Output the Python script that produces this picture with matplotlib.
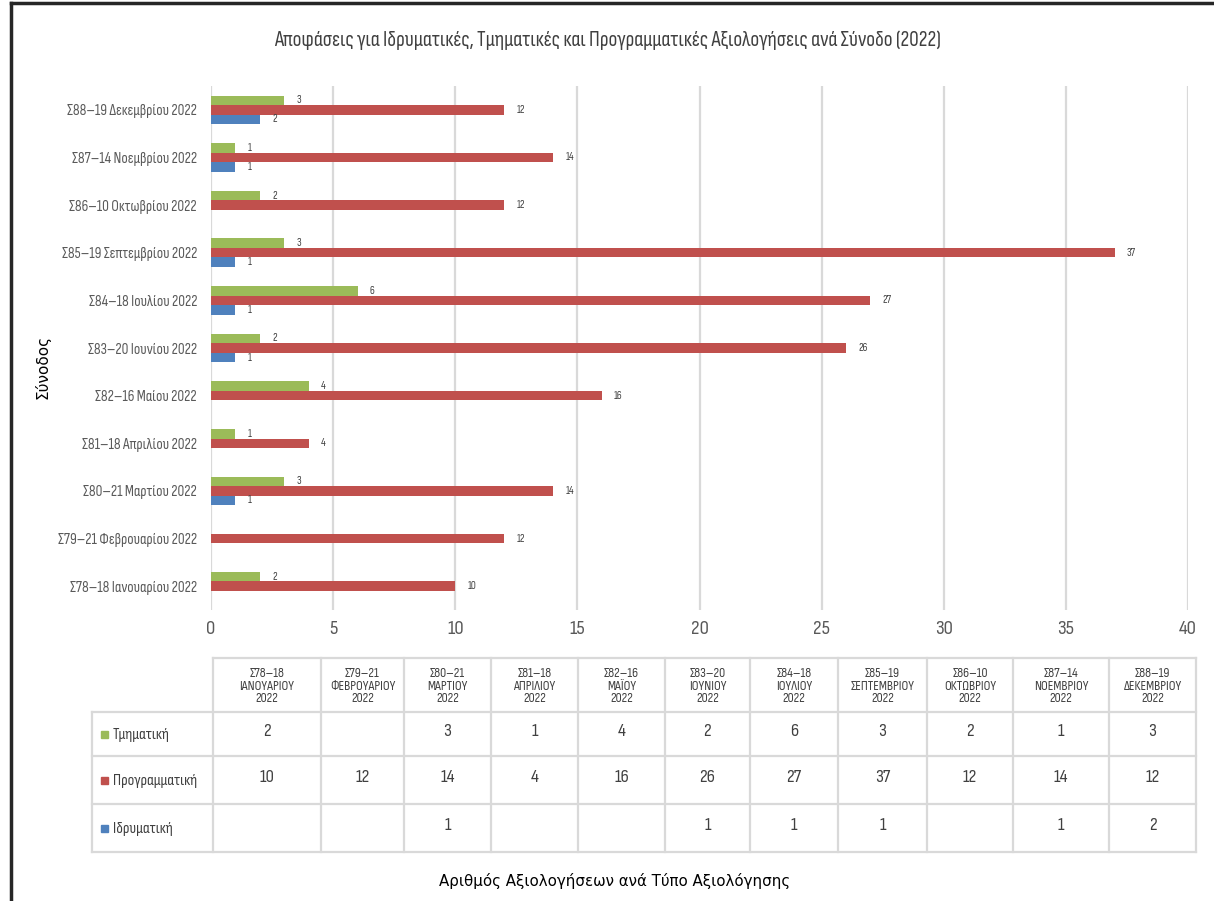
import numpy as np
import matplotlib
matplotlib.use('Agg')
import matplotlib.pyplot as plt
from matplotlib.patches import Rectangle
from matplotlib.lines import Line2D

COND = ['Sofia Sans Condensed', 'Roboto Condensed', 'DejaVu Sans']
plt.rcParams['font.family'] = COND

# data (bottom to top)
sessions = ['Σ78–18 Ιανουαρίου 2022', 'Σ79–21 Φεβρουαρίου 2022', 'Σ80–21 Μαρτίου 2022',
            'Σ81–18 Απριλίου 2022', 'Σ82–16 Μαίου 2022', 'Σ83–20 Ιουνίου 2022',
            'Σ84–18 Ιουλίου 2022', 'Σ85–19 Σεπτεμβρίου 2022', 'Σ86–10 Οκτωβρίου 2022',
            'Σ87–14 Νοεμβρίου 2022', 'Σ88–19 Δεκεμβρίου 2022']
table_headers = ['Σ78–18\nΙΑΝΟΥΑΡΙΟΥ\n2022', 'Σ79–21\nΦΕΒΡΟΥΑΡΙΟΥ\n2022', 'Σ80–21\nΜΑΡΤΙΟΥ\n2022',
                 'Σ81–18\nΑΠΡΙΛΙΟΥ\n2022', 'Σ82–16\nΜΑΪΟΥ\n2022', 'Σ83–20\nΙΟΥΝΙΟΥ\n2022',
                 'Σ84–18\nΙΟΥΛΙΟΥ\n2022', 'Σ85–19\nΣΕΠΤΕΜΒΡΙΟΥ\n2022', 'Σ86–10\nΟΚΤΩΒΡΙΟΥ\n2022',
                 'Σ87–14\nΝΟΕΜΒΡΙΟΥ\n2022', 'Σ88–19\nΔΕΚΕΜΒΡΙΟΥ\n2022']
tmimatiki = [2, None, 3, 1, 4, 2, 6, 3, 2, 1, 3]
programmatiki = [10, 12, 14, 4, 16, 26, 27, 37, 12, 14, 12]
idrymatiki = [None, None, 1, None, None, 1, 1, 1, None, 1, 2]
series_names = ['Τμηματική', 'Προγραμματική', 'Ιδρυματική']
series_colors = ['#9BBB59', '#C0504D', '#4F81BD']
xticks = [0, 5, 10, 15, 20, 25, 30, 35, 40]

W, H = 1214, 901
fig = plt.figure(figsize=(W / 100, H / 100), dpi=100)

# main bar axes
ax = fig.add_axes([211 / W, 1 - 610 / H, (1188 - 211) / W, (610 - 86) / H])
y = np.arange(len(sessions))
bh = 0.2
all_series = [tmimatiki, programmatiki, idrymatiki]
offsets = [bh, 0, -bh]
for vals, col, off in zip(all_series, series_colors, offsets):
    v = np.array([np.nan if a is None else a for a in vals], dtype=float)
    ax.barh(y + off, np.nan_to_num(v), height=bh, color=col, zorder=3)
    for yi, vi in zip(y, v):
        if not np.isnan(vi):
            ax.text(vi + 0.5, yi + off, f'{int(vi)}', va='center', ha='left',
                    fontsize=8, color='#404040', zorder=4)

ax.set_xlim(0, 40)
ax.set_ylim(-0.5, len(sessions) - 0.5)
ax.set_xticks(xticks)
ax.set_yticks(y)
ax.set_yticklabels(sessions)
ax.tick_params(axis='y', length=0, pad=10, labelsize=11, labelcolor='#595959')
ax.tick_params(axis='x', length=0, pad=7, labelsize=15, labelcolor='#595959')
ax.grid(axis='x', color='#d9d9d9', linewidth=1.6, zorder=0)
for s in ax.spines.values():
    s.set_visible(False)

# overlay axes in pixel coords for table, titles, border
ov = fig.add_axes([0, 0, 1, 1])
ov.set_xlim(0, W)
ov.set_ylim(H, 0)
ov.axis('off')

ov.text(608, 40, 'Αποφάσεις για Ιδρυματικές, Τμηματικές και Προγραμματικές Αξιολογήσεις ανά Σύνοδο (2022)',
        ha='center', va='center', fontsize=15.3, color='#404040')
ov.text(43, 367, 'Σύνοδος', rotation=90, ha='center', va='center', fontsize=11,
        color='black', family='DejaVu Sans')
ov.text(615, 881, 'Αριθμός Αξιολογήσεων ανά Τύπο Αξιολόγησης', ha='center', va='center',
        fontsize=10.8, color='black', family='DejaVu Sans')

# frame lines (left and top)
ov.add_line(Line2D([11, 11], [3, H], color='#262626', linewidth=2.5))
ov.add_line(Line2D([11, W], [3, 3], color='#262626', linewidth=2.5))

# data table
col_edges = [213, 321, 404, 491, 578, 665, 750, 838, 927, 1013, 1109, 1196]
row_edges = [658, 712, 756, 804, 852]
label_left = 92
gc = '#d9d9d9'
lw = 1.6
ov.add_line(Line2D([col_edges[0], col_edges[-1]], [row_edges[0]] * 2, color=gc, linewidth=lw))
for ry in row_edges[1:]:
    ov.add_line(Line2D([label_left, col_edges[-1]], [ry] * 2, color=gc, linewidth=lw))
ov.add_line(Line2D([label_left] * 2, [row_edges[1], row_edges[-1]], color=gc, linewidth=lw))
for cx in col_edges:
    ov.add_line(Line2D([cx] * 2, [row_edges[0], row_edges[-1]], color=gc, linewidth=lw))

for i, hdr in enumerate(table_headers):
    cx = (col_edges[i] + col_edges[i + 1]) / 2
    ov.text(cx, (row_edges[0] + row_edges[1]) / 2 + 1, hdr, ha='center', va='center',
            fontsize=9.8, color='#404040', linespacing=0.95)

for r, (vals, name, col) in enumerate(zip(all_series, series_names, series_colors)):
    cy = (row_edges[r + 1] + row_edges[r + 2]) / 2
    ov.add_patch(Rectangle((101, cy - 3.5), 7, 7, color=col))
    ov.text(113, cy + 1, name, ha='left', va='center', fontsize=11.5, color='#404040')
    for i, v in enumerate(vals):
        if v is not None:
            cx = (col_edges[i] + col_edges[i + 1]) / 2
            ov.text(cx, cy - 2, str(v), ha='center', va='center', fontsize=13.5, color='#404040')

fig.savefig('out.png', dpi=100)
